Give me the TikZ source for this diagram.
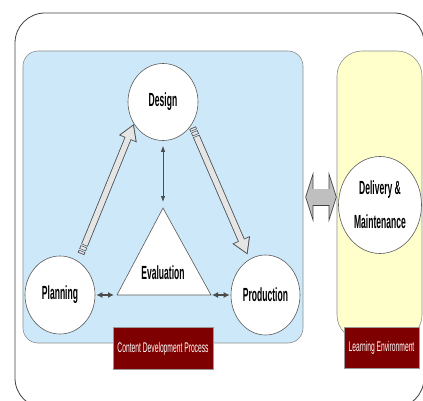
\documentclass[tikz,border=0pt]{standalone}
\usepackage{fontspec}
\newfontfamily\narrowfont{Liberation Sans}[FakeStretch=0.48]
\newfontfamily\narrowbold{Liberation Sans Bold}[FakeStretch=0.45]
\usetikzlibrary{shapes.geometric,arrows.meta,decorations.markings}
\definecolor{procblue}{HTML}{CDE9F9}
\definecolor{envyellow}{HTML}{FFFFCC}
\definecolor{labelred}{HTML}{7F0000}
\newcommand{\cutmark}{\fill[procblue] (-0.9pt,-4.5pt) rectangle (0.9pt,4.5pt);
   \draw[-,black!70,line width=0.5pt,shorten <=0pt,shorten >=0pt]
      (-0.9pt,-3.5pt) -- (-0.9pt,3.5pt) (0.9pt,-3.5pt) -- (0.9pt,3.5pt);}
\begin{document}
\begin{tikzpicture}[x=1pt,y=-1pt,
   stage/.style={draw=black!65,fill=white,ellipse,line width=0.6pt,inner sep=0pt,
      font=\narrowbold\fontsize{19}{34}\selectfont,align=center},
   area/.style={draw=black!45,line width=0.6pt,rectangle},
   tag/.style={draw=black!40,fill=labelred,text=white,minimum width=100pt,minimum height=42pt,
      font=\narrowfont\fontsize{14}{16}\selectfont},
   twoway/.style={draw=black!70,line width=1.2pt,{Latex[length=6pt,width=6pt]}-{Latex[length=6pt,width=6pt]}},
   flow/.style 2 args={draw=black!70,line width=7pt,shorten <=#1,shorten >=#2,
      -{Triangle[length=16pt,width=18pt]},
      postaction={draw=black!10,line width=5.4pt,shorten <=#1+0.8pt,shorten >=#2+1.8pt,
         -{Triangle[length=13.4pt,width=15pt]}},
      postaction={decorate,decoration={markings,
         mark=at position #1+3.5pt with {\cutmark},
         mark=at position #1+8.5pt with {\cutmark}}}},
   linkarrow/.style={draw=black!75,line width=17pt,shorten <=2pt,
      {Triangle[length=8pt,width=50pt]}-{Triangle[length=8pt,width=50pt]},
      postaction={draw=black!25,line width=15.4pt,shorten <=2.84pt,shorten >=0.84pt,
         {Triangle[length=6.4pt,width=40pt]}-{Triangle[length=6.4pt,width=40pt]}}}]
\useasboundingbox (0,0) rectangle (423,401);
\draw[black!75,line width=0.8pt,rounded corners=30pt] (15,13) rectangle (424,408);
\node[area,fill=procblue,rounded corners=15pt,minimum width=280pt,minimum height=292pt] (cdp) at (163,197) {};
\node[area,fill=envyellow,rounded corners=25pt,minimum width=85pt,minimum height=289pt] (lenv) at (379.5,195.5) {};

\node[stage,minimum width=70pt,minimum height=77pt] (design) at (163,102) {Design};
\node[stage,minimum width=70pt,minimum height=78pt] (plan) at (60,295) {Planning};
\node[stage,minimum width=69pt,minimum height=80pt] (prod) at (265.5,295) {Production};
\node[stage,minimum width=83pt,minimum height=97pt] (deliv) at (380,205) {Delivery \&\\Maintenance};

\coordinate (evtop) at (163,208);
\coordinate (evleft) at (117,295);
\coordinate (evright) at (211,295);
\draw[draw=black!65,fill=white,line width=0.6pt] (evtop) -- (evleft) -- (evright) -- cycle;
\node[font=\narrowbold\fontsize{19}{22}\selectfont] (eval) at (163,273) {Evaluation};

\draw[twoway,line width=0.8pt,{Latex[length=6pt,width=4.5pt]}-{Latex[length=6pt,width=4.5pt]},
   shorten <=5pt,shorten >=6pt] (design) -- (evtop);
\draw[twoway,shorten <=1pt,shorten >=3pt] (plan) -- (evleft);
\draw[twoway,shorten <=1pt,shorten >=1pt] (evright) -- (prod);

\draw[flow={8pt}{0pt}] (plan.62) -- (design.217);
\draw[flow={3pt}{5pt}] (design.-39) -- (prod.114);

\draw[linkarrow] (cdp.east) -- (cdp.east -| lenv.west);

\node[tag] (cdptag) at (163,348.5) {Content Development Process};
\node[tag,minimum width=75pt,minimum height=41pt] (lenvtag) at (381.5,347.5) {Learning Environment};
\end{tikzpicture}
\end{document}
